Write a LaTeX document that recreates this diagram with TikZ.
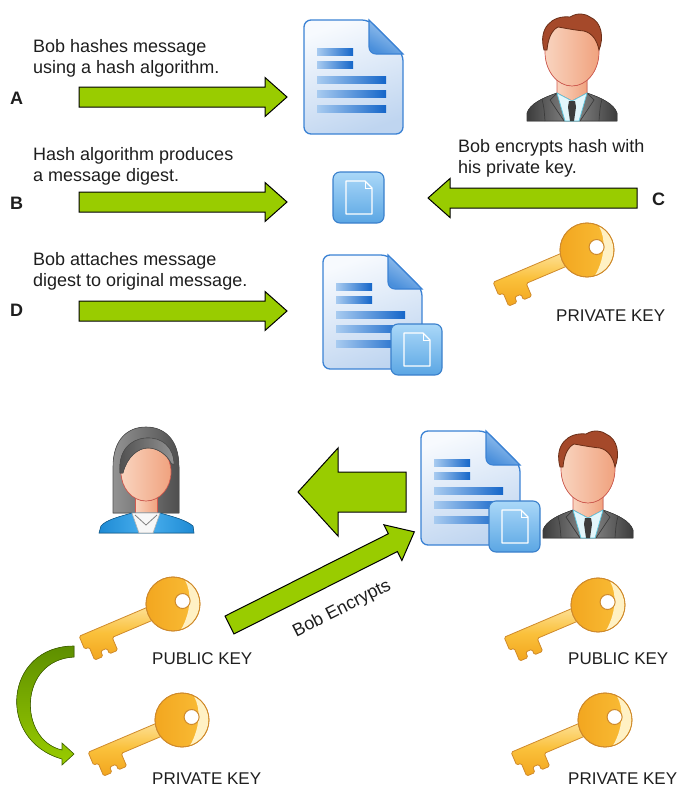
\documentclass[tikz,border=0pt]{standalone}
\usepackage{fontspec}
\setmainfont{Liberation Sans}
\usetikzlibrary{positioning}

\definecolor{textgray}{HTML}{1E1E1E}
\definecolor{arrowgreen}{HTML}{99CC00}
\definecolor{curvedark}{HTML}{5E8F00}
\definecolor{docedge}{HTML}{3B82D4}
\definecolor{doclight}{HTML}{F7FAFE}
\definecolor{docshade}{HTML}{BFD5F0}
\definecolor{foldlight}{HTML}{A9CDF2}
\definecolor{folddark}{HTML}{4A8FDB}
\definecolor{barlight}{HTML}{A8CBF0}
\definecolor{barblue}{HTML}{1566C9}
\definecolor{digtop}{HTML}{AAD8F8}
\definecolor{digbottom}{HTML}{5BA6E4}
\definecolor{digedge}{HTML}{3A80CC}
\definecolor{keygold}{HTML}{FAC03A}
\definecolor{keyorange}{HTML}{F2A51E}
\definecolor{keypale}{HTML}{FFF1C4}
\definecolor{keyedge}{HTML}{CF8A2C}
\definecolor{skinlight}{HTML}{F9D4BF}
\definecolor{skindark}{HTML}{F0A27E}
\definecolor{skinedge}{HTML}{D25B50}
\definecolor{hairbrown}{HTML}{A5492A}
\definecolor{hairedge}{HTML}{6A2E17}
\definecolor{suitlight}{HTML}{8A8A8A}
\definecolor{suitdark}{HTML}{3C3C3C}
\definecolor{shirtblue}{HTML}{E3F6FB}
\definecolor{shirtedge}{HTML}{5BC8E0}
\definecolor{alicehair}{HTML}{4F4F4F}
\definecolor{alicelight}{HTML}{939393}
\definecolor{jacketblue}{HTML}{1D8AD4}
\definecolor{jacketlight}{HTML}{4BB0EE}

\tikzset{
    caption/.style={font=\fontsize{18}{21}\selectfont, text=textgray,
        align=left, inner sep=0pt, anchor=base west},
    steplabel/.style={font=\fontsize{18}{21}\selectfont\bfseries,
        text=textgray, inner sep=0pt, anchor=base west},
    keylabel/.style={font=\fontsize{17}{20}\selectfont, text=textgray,
        inner sep=0pt, anchor=base west},
    greenarrow/.style={fill=arrowgreen, draw=black, line width=1pt,
        line join=miter},
    docbody/.style={draw=docedge, line width=1.3pt, rounded corners=7pt,
        top color=doclight, bottom color=docshade, shading angle=20},
    docfold/.style={draw=docedge, line width=1.1pt, top color=foldlight,
        bottom color=folddark, shading angle=-30},
    digestbox/.style={draw=digedge, line width=1.1pt, rounded corners=7pt,
        top color=digtop, bottom color=digbottom},
    keybody/.style={draw=keyedge, line width=0.8pt, top color=keypale!70!keygold,
        bottom color=keyorange, middle color=keygold},
    keyring/.style={draw=keyedge, line width=0.8pt, left color=keyorange,
        right color=keygold},
    skin/.style={draw=skinedge, line width=0.7pt, left color=skinlight,
        right color=skindark},
    % arrow as a flat polygon: length, half shaft, half head, head length
    pics/flatarrow/.style n args={4}{code={
        \filldraw[greenarrow] (0,-#2) -- ({#1-#4},-#2) -- ({#1-#4},-#3)
            -- (#1,0) -- ({#1-#4},#3) -- ({#1-#4},#2) -- (0,#2) -- cycle;
    }},
    pics/document/.style={code={
        \path[docbody] (0,0) -- (65,0) -- (99,34) -- (99,114) -- (0,114) -- cycle;
        \path[docfold] (65,0) -- (65,27) .. controls (65,31) and (68,34) .. (72,34)
            -- (99,34) -- cycle;
        \foreach \y/\len in {32/36, 45/36, 60/69, 74/69, 89/69}
            \shade[left color=barlight, right color=barblue]
                (13,{\y-3.5}) rectangle ++(\len,7);
    }},
    pics/digest/.style={code={
        \path[digestbox] (0,0) rectangle (51,51);
        \draw[white, line width=1.3pt, line join=round]
            (13,9) -- (32,9) -- (39,16) -- (39,42) -- (13,42) -- cycle;
        \draw[white, line width=1pt] (32,9) -- (32,16) -- (39,16);
    }},
    pics/goldkey/.style={code={
        \path[keybody, rounded corners=1.5pt] (-99,-7) -- (-20,-7) -- (-20,7)
            -- (-69,7) -- (-69,21) -- (-78,21) -- (-78,15) -- (-85,15)
            -- (-85,21) -- (-94,21) -- (-94,7) -- (-99,7) -- cycle;
        \path[keyring] (0,0) circle (27);
        \fill[keypale] (-40:26.5) arc (-40:95:26.5)
            .. controls (14,14) and (22,-4) .. (-40:26.5);
        \draw[keyedge, line width=0.8pt] (0,0) circle (27);
        \filldraw[fill=white, draw=keyedge, line width=1pt] (10,1) circle (7.5);
    }},
    pics/man/.style={code={
        % suit and shirt
        \filldraw[draw=suitdark, line width=0.6pt, left color=suitdark,
            right color=suitdark, middle color=suitlight]
            (-45,121) -- (-45,113) .. controls (-42,104) and (-30,98) .. (-15,93)
            -- (15,93) .. controls (30,98) and (42,104) .. (45,113) -- (45,121) -- cycle;
        \draw[suitdark, line width=0.7pt] (-30,99) .. controls (-28,108) .. (-27,121)
            (30,99) .. controls (28,108) .. (27,121)
            (-15,93) -- (-22,100) -- (-8,121) (15,93) -- (22,100) -- (8,121);
        \filldraw[skin] (-15,64) -- (-15,93) -- (0,101) -- (15,93) -- (15,64) -- cycle;
        \filldraw[fill=shirtblue, draw=shirtedge, line width=0.7pt]
            (-15,93) -- (-7,121) -- (7,121) -- (15,93) -- (0,101) -- cycle;
        \fill[suitdark] (-3,101) -- (3,101) -- (4,107) -- (2,121) -- (-2,121)
            -- (-4,107) -- cycle;
        % head
        \filldraw[skin] (0,52) ellipse (27 and 34);
        \filldraw[fill=hairbrown, draw=hairedge, line width=0.8pt]
            (-28,50) .. controls (-34,28) and (-20,15) .. (-2,17)
            .. controls (6,12) and (14,14) .. (18,17)
            .. controls (30,22) and (32,38) .. (27,50)
            .. controls (25,40) and (20,33) .. (12,31)
            .. controls (2,30) and (-8,28) .. (-14,27)
            .. controls (-20,30) and (-24,38) .. (-25,50) -- cycle;
    }},
    pics/woman/.style={code={
        \filldraw[draw=alicehair, line width=0.6pt, left color=alicelight,
            right color=alicehair]
            (-33,86) -- (-33,40) .. controls (-33,12) and (-18,0) .. (0,0)
            .. controls (18,0) and (33,12) .. (33,40) -- (33,86) -- cycle;
        \filldraw[skin] (-11,66) rectangle (11,90);
        \filldraw[skin] (0,45) ellipse (25 and 29);
        \filldraw[draw=alicehair, line width=0.6pt, left color=alicehair,
            right color=alicelight]
            (-26,46) .. controls (-28,24) and (-16,12) .. (0,11)
            .. controls (16,10) and (28,20) .. (28,38) -- (25,36)
            .. controls (21,28) and (12,21) .. (2,21)
            .. controls (-8,21) and (-19,30) .. (-23,46) -- cycle;
        \filldraw[draw=jacketblue!70!black, line width=0.6pt, left color=jacketblue,
            right color=jacketblue, middle color=jacketlight]
            (-47,106) -- (-45,99) .. controls (-40,93) and (-28,90) .. (-14,86)
            -- (14,86) .. controls (28,90) and (40,93) .. (47,99) -- (48,106) -- cycle;
        \filldraw[fill=white!94!gray, draw=gray!60, line width=0.6pt]
            (-14,86) -- (-7,106) -- (7,106) -- (14,86) -- cycle;
        \draw[gray, line width=0.8pt] (-11,88) -- (0,98) -- (11,88);
    }},
}

\begin{document}
\begin{tikzpicture}[x=1pt, y=-1pt]
    \useasboundingbox (0,0) rectangle (683,787);

    % step A: hashing (base is the last line)
    \node[caption] (txtA) at (33,73) {Bob hashes message\\using a hash algorithm.};
    \node[steplabel] (lblA) at (10,104) {A};
    \coordinate (arrA) at (79,97);
    \pic at (arrA) {flatarrow={208}{10}{19.5}{22}};
    \pic (msg) at (304,20) {document};

    % Bob, top right
    \pic (bobTop) at (572,0) {man};

    % step B: digest
    \node[caption] (txtB) at (33,181) {Hash algorithm produces\\a message digest.};
    \node[steplabel] (lblB) at (10,209) {B};
    \coordinate (arrB) at (79,202);
    \pic at (arrB) {flatarrow={208}{10}{19.5}{22}};
    \pic (dig) at (333,172) {digest};

    % step C: encrypt with private key
    \node[caption] (txtC) at (458,173) {Bob encrypts hash with\\his private key.};
    \node[steplabel] (lblC) at (652,205) {C};
    \coordinate (arrC) at (637,198);
    \pic[rotate=180] at (arrC) {flatarrow={209}{10}{19.5}{22}};
    \pic (privTop) at (587,250) [rotate=23] {goldkey};
    \node[keylabel] (privTopLbl) at (556,321) {PRIVATE KEY};

    % step D: attach digest
    \node[caption] (txtD) at (33,286) {Bob attaches message\\digest to original message.};
    \node[steplabel] (lblD) at (10,316) {D};
    \coordinate (arrD) at (79,311);
    \pic at (arrD) {flatarrow={208}{10}{19.5}{22}};
    \pic (signed) at (323,255) {document};
    \pic (signedDig) at (391,324) {digest};

    % sending to Alice
    \pic (alice) at (146,427) {woman};
    \coordinate (sendTail) at (406,492);
    \pic[rotate=180] at (sendTail) {flatarrow={108}{20}{44}{40}};
    \pic (sent) at (421,431) {document};
    \pic (sentDig) at (489,501) {digest};
    \pic (bobLow) at (588,417) {man};

    % Alice's keys
    \pic (alicePub) at (173,604) [rotate=23] {goldkey};
    \node[keylabel] (alicePubLbl) at (152,664) {PUBLIC KEY};
    \pic (alicePriv) at (182,720) [rotate=23] {goldkey};
    \node[keylabel] (alicePrivLbl) at (152,784) {PRIVATE KEY};

    % curved arrow between Alice's keys
    \filldraw[draw=curvedark!70!black, line width=0.6pt, top color=curvedark,
        bottom color=arrowgreen]
        (74,646) .. controls (5,646) and (-5,740) .. (62,759)
        -- (62,765) -- (74,754) -- (62,743) -- (62,750)
        .. controls (18,740) and (18,660) .. (74,657) -- cycle;

    % encryption arrow
    \coordinate (encTail) at (229.5,625);
    \pic[rotate=26.75] at (encTail) {flatarrow={207}{10}{20}{24}};
    \node[caption, anchor=center, rotate=26.75] (encLbl) at (342,609) {Bob Encrypts};

    % Bob's keys
    \pic (bobPub) at (598,605) [rotate=23] {goldkey};
    \node[keylabel] (bobPubLbl) at (568,664) {PUBLIC KEY};
    \pic (bobPriv) at (605,720) [rotate=23] {goldkey};
    \node[keylabel] (bobPrivLbl) at (568,784) {PRIVATE KEY};
\end{tikzpicture}
\end{document}
